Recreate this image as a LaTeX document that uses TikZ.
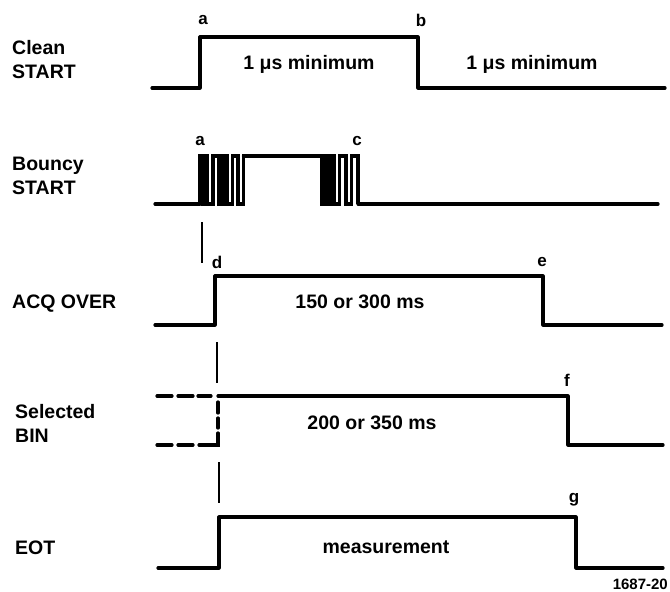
\documentclass[tikz,border=0pt]{standalone}
\usepackage{fontspec}
\setmainfont{Liberation Sans}
\begin{document}
\begin{tikzpicture}[x=1pt,y=-1pt,
  wave/.style={line width=3.2pt, line join=round, line cap=round},
  bounce/.style={line width=3.4pt, line join=miter},
  guide/.style={line width=2.6pt},
  dsh/.style={line width=3.2pt, line cap=round},
  txt/.style={font=\bfseries\fontsize{19.5}{24}\selectfont, inner sep=0pt},
  sig/.style={txt, anchor=west, align=left},
  tag/.style={font=\bfseries\fontsize{17}{20}\selectfont, inner sep=0pt}]
\useasboundingbox (0,0) rectangle (670,592);

% signal names
\node[sig] (nclean) at (12,60) {Clean\\START};
\node[sig] (nbouncy) at (12,176) {Bouncy\\START};
\node[sig] (nacq) at (12,304) {ACQ OVER};
\node[sig] (nbin) at (15,423) {Selected\\BIN};
\node[sig] (neot) at (15,548) {EOT};

% Clean START
\draw[wave] (152,88) -- (200,88) -- (200,37) -- (418,37) -- (418,88) -- (665,88);
\node[tag] (la1) at (203,20) {a};
\node[tag] (lb) at (421,20) {b};
\node[txt] (t1) at (309,64) {1 μs minimum};
\node[txt] (t2) at (532,64) {1 μs minimum};

% Bouncy START
\draw[wave] (155,204) -- (200,204);
\draw[bounce] (200,204) -- (200,156) -- (202.5,156) -- (202.5,204) -- (205,204) -- (205,156) -- (207.5,156) -- (207.5,204) -- (213,204) -- (213,156) -- (219,156) -- (219,204) -- (223,204) -- (223,156) -- (227,156) -- (227,204) -- (232.5,204) -- (232.5,156) -- (238,156) -- (238,204) -- (243.5,204) -- (243.5,156) -- (321.5,156) -- (321.5,204) -- (324.5,204) -- (324.5,156) -- (327.5,156) -- (327.5,204) -- (330.5,204) -- (330.5,156) -- (334,156) -- (334,204) -- (339.5,204) -- (339.5,156) -- (346,156) -- (346,204) -- (351.5,204) -- (351.5,156) -- (358,156) -- (358,204);
\draw[wave] (243.5,156) -- (321.5,156);
\draw[wave] (358,204) -- (658,204);
\node[tag] (la2) at (200,141) {a};
\node[tag] (lc) at (357,141) {c};

% guide lines
\draw[guide] (202,222) -- (202,263);
\draw[guide] (217,342) -- (217,383);
\draw[guide] (219,462) -- (219,503);

% ACQ OVER
\draw[wave] (155,325) -- (215,325) -- (215,276) -- (543,276) -- (543,325) -- (662,325);
\node[tag] (ld) at (217,262) {d};
\node[tag] (le) at (542,262) {e};
\node[txt] (t3) at (360,302) {150 or 300 ms};

% Selected BIN
\draw[wave] (218,396) -- (568,396) -- (568,445) -- (663,445);
\draw[dsh] (157,396) -- (172,396) (178,396) -- (193,396) (198,396) -- (211,396);
\draw[dsh] (157,445) -- (172,445) (178,445) -- (193,445);
\draw[dsh] (199,445) -- (218,445) -- (218,433);
\draw[dsh] (218,418) -- (218,428) (218,402) -- (218,413);
\node[tag] (lf) at (567,380) {f};
\node[txt] (t4) at (372,423) {200 or 350 ms};

% EOT
\draw[wave] (158,568) -- (219,568) -- (219,517) -- (576,517) -- (576,568) -- (663,568);
\node[tag] (lg) at (574,500) {g};
\node[txt] (t5) at (386,547) {measurement};
\node[font=\bfseries\fontsize{15}{17}\selectfont, inner sep=0pt, anchor=east] (fig) at (668,584) {1687-20};
\end{tikzpicture}
\end{document}
